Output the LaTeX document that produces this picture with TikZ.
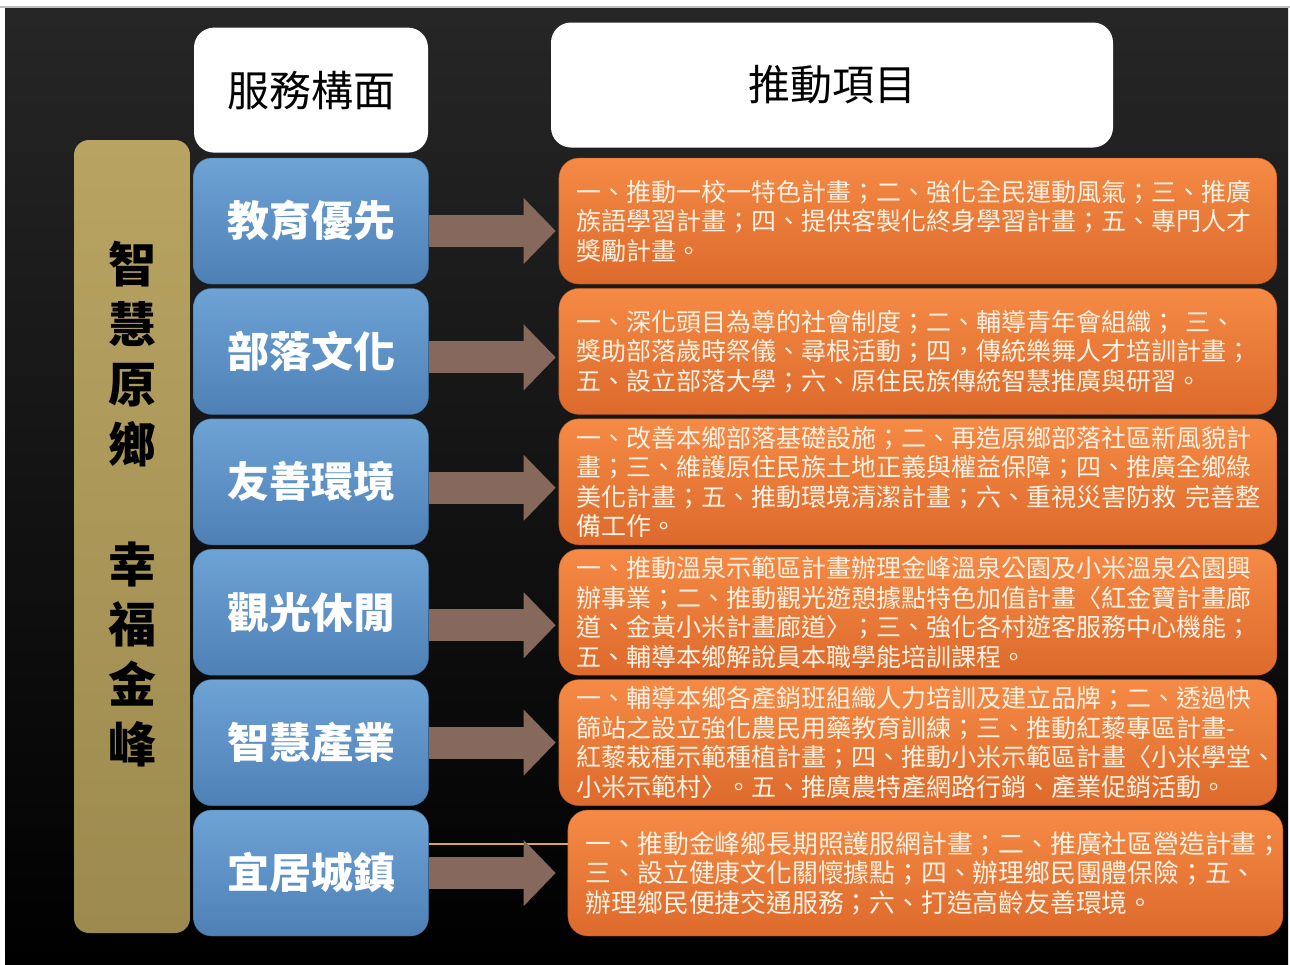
\documentclass[tikz,border=0pt]{standalone}
\usepackage{fontspec}
\setmainfont{Noto Sans CJK TC}
\usepackage{tikz}
\usetikzlibrary{positioning,arrows.meta}

\definecolor{mottotop}{HTML}{B8A362}
\definecolor{mottobottom}{HTML}{9C8A4E}
\definecolor{aspecttop}{HTML}{6EA3D6}
\definecolor{aspectbottom}{HTML}{4E80B5}
\definecolor{aspectline}{HTML}{3F6C9C}
\definecolor{plantop}{HTML}{F58A45}
\definecolor{planbottom}{HTML}{DD6A2C}
\definecolor{planline}{HTML}{B9561F}
\definecolor{plantext}{HTML}{FFF1E2}
\definecolor{pushbrown}{HTML}{86685D}
\definecolor{glintgold}{HTML}{DDA848}

\begin{document}
\begin{tikzpicture}[x=1pt, y=-1pt, node distance=4pt]
    \tikzstyle{headbox}=[rectangle,fill=white,rounded corners=20pt,minimum height=125pt,font={\fontsize{42}{50}\selectfont}]
    \tikzstyle{mottobar}=[rectangle,top color=mottotop,bottom color=mottobottom,rounded corners=15pt,minimum width=116pt,minimum height=793pt]
    \tikzstyle{aspectbox}=[rectangle,draw=aspectline,top color=aspecttop,bottom color=aspectbottom,rounded corners=18pt,minimum width=235pt,minimum height=126pt,text=white,font={\fontsize{42}{50}\selectfont\bfseries}]
    \tikzstyle{planbox}=[rectangle,draw=planline,top color=plantop,bottom color=planbottom,rounded corners=20pt,text width=682pt,inner xsep=18pt,inner ysep=3pt,minimum height=126pt,align=left,text=plantext,font={\fontsize{25}{29.5}\selectfont}]
    \tikzstyle{push}=[line width=32pt,draw=pushbrown,-{Triangle[length=32pt,width=64pt]},shorten >=3pt]
    \tikzstyle{glint}=[line width=2pt,draw=glintgold]

    % background
    \useasboundingbox (0,0) rectangle (1290,964);
    \fill[white] (0,0) rectangle (1290,964);
    \shade[top color=black!85!white,middle color=black!96!white,bottom color=black] (5,8) rectangle (1288,964);
    \draw[gray!50,line width=2pt] (0,7) -- (1290,7);

    % left column
    \node[mottobar] (motto) at (132,536.5) {};
    \node[font={\fontsize{48}{60}\selectfont\bfseries},align=center,inner sep=0pt] (mottotext) at ([yshift=32pt]motto.center) {智\\慧\\原\\鄉\\[60pt]幸\\福\\金\\峰};

    \node[aspectbox] (edu) at (311,221) {教育優先};
    \node[headbox,minimum width=234pt,above=5pt of edu] (aspect) {服務構面};
    \node[aspectbox,below=of edu] (tribe) {部落文化};
    \node[aspectbox,below=of tribe] (env) {友善環境};
    \node[aspectbox,below=of env] (tour) {觀光休閒};
    \node[aspectbox,below=of tour] (ind) {智慧產業};
    \node[aspectbox,below=of ind] (city) {宜居城鎮};

    % right column
    \node[headbox,minimum width=562pt] (items) at (832,85) {推動項目};
    \node[planbox,right=130pt of edu] (eduplan) {一、推動一校一特色計畫；二、強化全民運動風氣；三、推廣\\族語學習計畫；四、提供客製化終身學習計畫；五、專門人才\\獎勵計畫。};
    \node[planbox,right=130pt of tribe] (tribeplan) {一、深化頭目為尊的社會制度；二、輔導青年會組織；~三、\\獎助部落歲時祭儀、尋根活動；四，傳統樂舞人才培訓計畫；\\五、設立部落大學；六、原住民族傳統智慧推廣與研習。};
    \node[planbox,right=130pt of env] (envplan) {一、改善本鄉部落基礎設施；二、再造原鄉部落社區新風貌計\\畫；三、維護原住民族土地正義與權益保障；四、推廣全鄉綠\\美化計畫；五、推動環境清潔計畫；六、重視災害防救~完善整\\備工作。};
    \node[planbox,right=130pt of tour] (tourplan) {一、推動溫泉示範區計畫辦理金峰溫泉公園及小米溫泉公園興\\辦事業；二、推動觀光遊憩據點特色加值計畫〈紅金寶計畫廊\\道、金黃小米計畫廊道〉；三、強化各村遊客服務中心機能；\\五、輔導本鄉解說員本職學能培訓課程。};
    \node[planbox,right=130pt of ind] (indplan) {一、輔導本鄉各產銷班組織人力培訓及建立品牌；二、透過快\\篩站之設立強化農民用藥教育訓練；三、推動紅藜專區計畫-\\紅藜栽種示範種植計畫；四、推動小米示範區計畫〈小米學堂、\\小米示範村〉。五、推廣農特產網路行銷、產業促銷活動。};
    \node[planbox,text width=679pt,right=139pt of city,font={\fontsize{25.8}{29.5}\selectfont}] (cityplan) {一、推動金峰鄉長期照護服網計畫；二、推廣社區營造計畫；\\三、設立健康文化關懷據點；四、辦理鄉民團體保險；五、\\辦理鄉民便捷交通服務；六、打造高齡友善環境。};

    % arrows
    \coordinate (glintstart) at ([yshift=-34pt]city.north east);
    \draw[glint] (glintstart) -- (glintstart -| cityplan.west);
    \draw[push] ([yshift=-10pt]edu.east) -- ([yshift=-10pt]eduplan.west);
    \draw[push] ([yshift=-6pt]tribe.east) -- ([yshift=-6pt]tribeplan.west);
    \draw[push] ([yshift=-6pt]env.east) -- ([yshift=-6pt]envplan.west);
    \draw[push] ([yshift=-13pt]tour.east) -- ([yshift=-13pt]tourplan.west);
    \draw[push] (ind.east) -- (indplan.west);
    \draw[push] (city.east) -- ([xshift=-9pt]cityplan.west);
\end{tikzpicture}
\end{document}
